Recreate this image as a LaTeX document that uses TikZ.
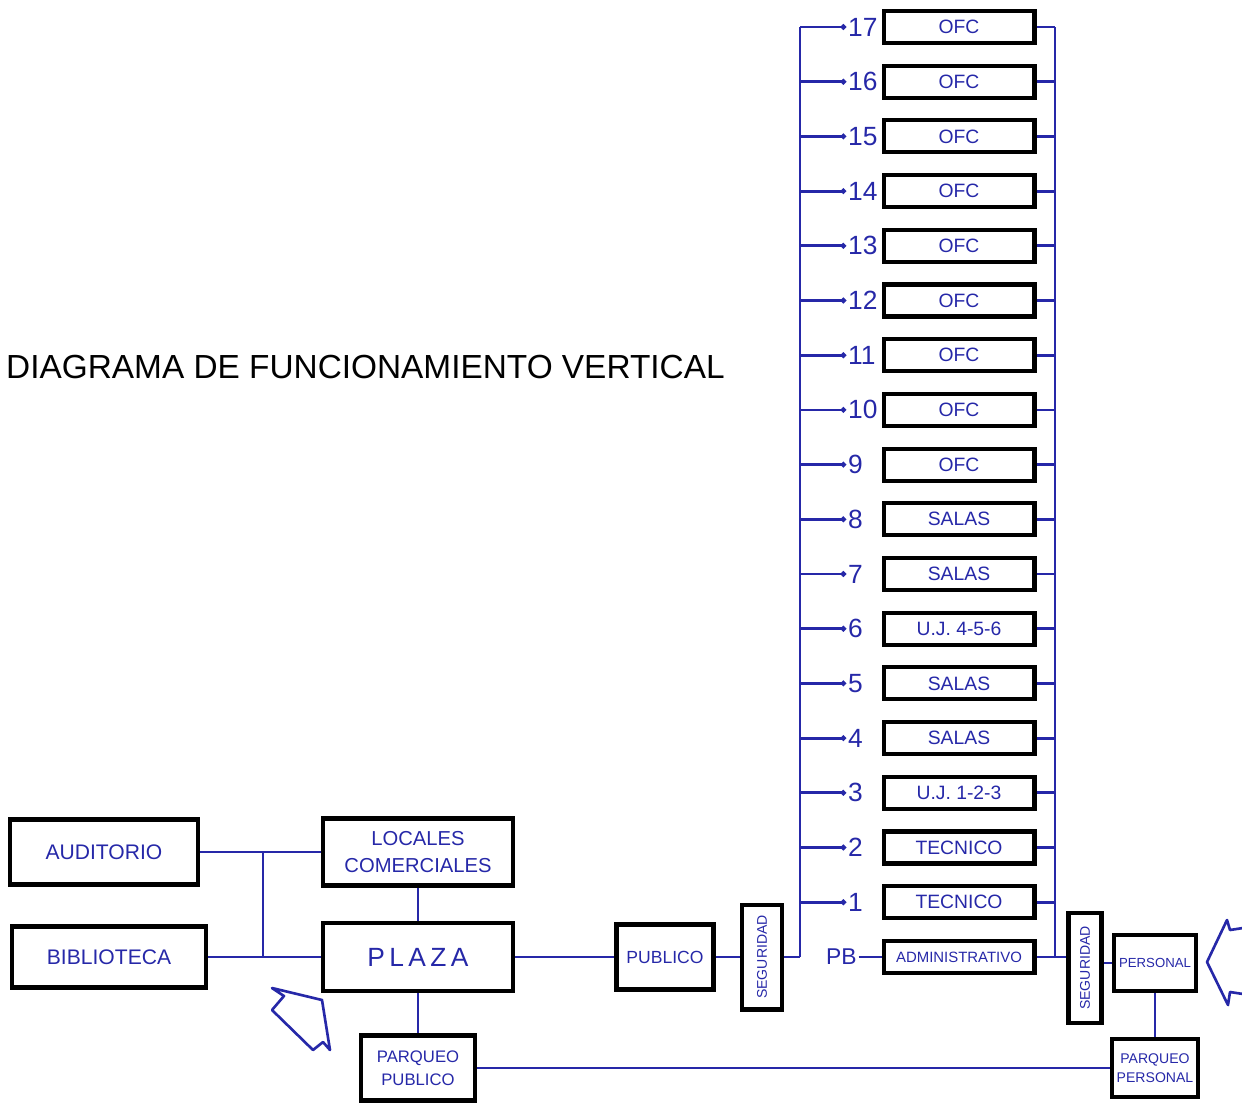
\documentclass[tikz,border=0pt]{standalone}
\usepackage{fontspec}
\setmainfont{Liberation Sans}
\usetikzlibrary{arrows.meta, positioning, calc}
\definecolor{pen}{RGB}{38,40,168}

\begin{document}
\begin{tikzpicture}[
    x=0.02cm, y=-0.02cm,
    every node/.style={font=\fontsize{11}{12}\selectfont, text=pen},
    room/.style={rectangle, draw=black, line width=2.3pt, inner sep=0pt, align=center},
    floorbox/.style={room, minimum width=3.02cm, minimum height=0.64cm},
    num/.style={anchor=west, inner sep=1pt, font=\fontsize{15}{16}\selectfont},
    link/.style={draw=pen, line width=1.6pt},
    tick/.style={link, -{Circle[length=3pt]}},
    entry/.style={draw=pen, line width=1.5pt, line join=round}
]
\useasboundingbox (0,0) rectangle (1242,1103);

% --- Title ---
\node[anchor=west, text=black, font=\fontsize{19}{20}\selectfont] (title) at (0,367) {DIAGRAMA DE FUNCIONAMIENTO VERTICAL};

% --- Tower floors ---
\foreach \n/\txt [count=\i from 0] in {17/OFC,16/OFC,15/OFC,14/OFC,13/OFC,12/OFC,11/OFC,10/OFC,9/OFC,8/SALAS,7/SALAS,6/U.J. 4-5-6,5/SALAS,4/SALAS,3/U.J. 1-2-3,2/TECNICO,1/TECNICO}{
  \pgfmathsetmacro\yy{27+54.7*\i}
  \node[floorbox] (f\n) at (959,\yy) {\txt};
  \node[num] (n\n) at (846,\yy) {\n};
  \coordinate (l\n) at (800,\yy);
  \coordinate (r\n) at (1055,\yy);
  \draw[tick] (l\n) -- (n\n.west);
  \draw[link] (f\n) -- (r\n);
}
\node[floorbox, font=\fontsize{8.5}{9}\selectfont] (fPB) at (959,957) {ADMINISTRATIVO};
\node[num, font=\fontsize{13}{14}\selectfont] (nPB) at (824,957) {PB};
\coordinate (lPB) at (800,957);
\coordinate (rPB) at (1055,957);
\draw[link] (nPB) -- (fPB);
\draw[link] (fPB) -- (rPB);

% --- Vertical cores ---
\draw[link] (l17) -- (lPB);
\draw[link] (r17) -- (rPB);

% --- Ground level ---
\node[room, minimum width=3.76cm, minimum height=1.3cm, font=\fontsize{12}{13}\selectfont] (aud) at (104,852) {AUDITORIO};
\node[room, minimum width=3.88cm, minimum height=1.22cm, font=\fontsize{12}{13}\selectfont] (bib) at (109,957) {BIBLIOTECA};
\node[room, minimum width=3.8cm, minimum height=1.34cm, font=\fontsize{11.5}{15}\selectfont] (loc) at (418,852) {LOCALES\\COMERCIALES};
\node[room, minimum width=3.8cm, minimum height=1.36cm, font=\fontsize{15}{16}\selectfont] (plaza) at (418,957) {P\,L\,A\,Z\,A};
\node[room, minimum width=2.28cm, minimum height=1.3cm, font=\fontsize{9.5}{13}\selectfont] (pqpub) at (418,1068) {PARQUEO\\PUBLICO};
\node[room, minimum width=1.94cm, minimum height=1.3cm, font=\fontsize{10}{11}\selectfont] (pub) at (665,957) {PUBLICO};
\node[room, minimum width=0.8cm, minimum height=2.1cm, font=\fontsize{8}{9}\selectfont] (segA) at (762,957) {\rotatebox{90}{SEGURIDAD}};
\node[room, minimum width=0.66cm, minimum height=2.2cm, font=\fontsize{8}{9}\selectfont] (segB) at (1085,968) {\rotatebox{90}{SEGURIDAD}};
\node[room, minimum width=1.64cm, minimum height=1.12cm, font=\fontsize{7.5}{8}\selectfont] (per) at (1155,963) {PERSONAL};
\node[room, minimum width=1.72cm, minimum height=1.16cm, font=\fontsize{8}{11}\selectfont] (pqper) at (1155,1068) {PARQUEO\\PERSONAL};

% --- Connections ---
\coordinate (ja) at (263,852);
\coordinate (jb) at (263,957);
\draw[link] (aud) -- (loc);
\draw[link] (bib) -- (plaza);
\draw[link] (ja) -- (jb);
\draw[link] (loc) -- (plaza);
\draw[link] (plaza) -- (pqpub);
\draw[link] (plaza) -- (pub);
\draw[link] (pub) -- (segA);
\draw[link] (segA) -- (lPB);
\draw[link] (rPB) -- (rPB -| segB.west);
\draw[link] (segB.east |- per) -- (per);
\draw[link] (per) -- (pqper);
\draw[link] (pqpub) -- (pqper);

% --- Entrances ---
\draw[entry] (272,988) -- (284,996) -- (272,1010) -- (313,1050) -- (323,1042) -- (330,1050) -- (322,1000) -- cycle;
\draw[entry] (1243,928) -- (1230,930) -- (1227,920) -- (1207,962) -- (1228,1005) -- (1230,992) -- (1243,994);
\end{tikzpicture}
\end{document}
